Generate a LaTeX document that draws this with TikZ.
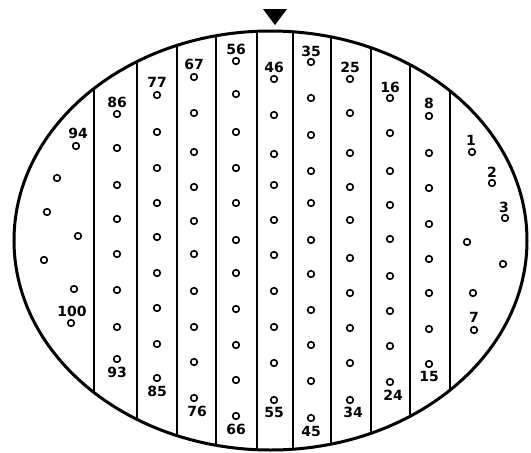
\documentclass[tikz,border=0pt]{standalone}
\usepackage{fontspec}
\setsansfont{DejaVu Sans}
\tikzset{
  dot/.style={circle, draw, line width=1.6pt, minimum size=6.6pt, inner sep=0pt},
  lbl/.style={font=\sffamily\bfseries\fontsize{14}{14}\selectfont, inner sep=0pt},
  divider/.style={line width=2pt},
  rim/.style={line width=3pt}
}
\begin{document}
\begin{tikzpicture}[x=1pt,y=-1pt]
\useasboundingbox (0,0) rectangle (531,453);
% dividers
\begin{scope}
  \clip (270.5,240.5) ellipse (256.5 and 209.5);
  \foreach \x in {94,137,177,216,257,293,331,371,410,450}
    \draw[divider] (\x,0) -- (\x,453);
\end{scope}
\draw[rim] (270.5,240.5) ellipse (256.5 and 209.5);
% arrow marker
\fill (263,9) -- (287,9) -- (275,25) -- cycle;
% right segment 1-7
\node[dot] (d1) at (472,152) {};
\node[dot] (d2) at (492,183) {};
\node[dot] (d3) at (505,218) {};
\node[dot] (d4) at (467,242) {};
\node[dot] (d5) at (503,264) {};
\node[dot] (d6) at (473,293) {};
\node[dot] (d7) at (474,330) {};
% columns
\foreach \y [count=\i from 8] in {116,153,188,224,259,293,329,364}
  \node[dot] (d\i) at (429,\y) {};
\foreach \y [count=\i from 16] in {98,133,171,205,239,276,311,346,382}
  \node[dot] (d\i) at (390,\y) {};
\foreach \y [count=\i from 25] in {79,113,153,187,220,258,293,328,363,400}
  \node[dot] (d\i) at (350,\y) {};
\foreach \y [count=\i from 35] in {62,98,135,171,203,240,274,310,345,381,418}
  \node[dot] (d\i) at (311,\y) {};
\foreach \y [count=\i from 46] in {79,115,154,185,220,255,291,327,363,400}
  \node[dot] (d\i) at (274,\y) {};
\foreach \y [count=\i from 56] in {61,94,132,168,203,240,273,309,345,380,416}
  \node[dot] (d\i) at (236,\y) {};
\foreach \y [count=\i from 67] in {77,113,152,187,221,254,291,327,362,398}
  \node[dot] (d\i) at (194,\y) {};
\foreach \y [count=\i from 77] in {95,132,168,203,237,273,308,344,378}
  \node[dot] (d\i) at (157,\y) {};
\foreach \y [count=\i from 86] in {114,148,185,219,254,290,327,359}
  \node[dot] (d\i) at (117,\y) {};
% left segment 94-100
\node[dot] (d94) at (76,146) {};
\node[dot] (d95) at (57,178) {};
\node[dot] (d96) at (47,212) {};
\node[dot] (d97) at (78,236) {};
\node[dot] (d98) at (44,260) {};
\node[dot] (d99) at (74,289) {};
\node[dot] (d100) at (71,323) {};
% labels
\node[lbl] (l1) at (471,140) {1};
\node[lbl] (l2) at (492,172) {2};
\node[lbl] (l3) at (504,207) {3};
\node[lbl] (l7) at (474,317) {7};
\node[lbl] (l8) at (429,103) {8};
\node[lbl] (l15) at (429,376) {15};
\node[lbl] (l16) at (390,87) {16};
\node[lbl] (l24) at (393,395) {24};
\node[lbl] (l25) at (350,67) {25};
\node[lbl] (l34) at (353,412) {34};
\node[lbl] (l35) at (311,51) {35};
\node[lbl] (l45) at (311,431) {45};
\node[lbl] (l46) at (274,67) {46};
\node[lbl] (l55) at (274,412) {55};
\node[lbl] (l56) at (236,49) {56};
\node[lbl] (l66) at (236,429) {66};
\node[lbl] (l67) at (194,64) {67};
\node[lbl] (l76) at (197,411) {76};
\node[lbl] (l77) at (157,82) {77};
\node[lbl] (l85) at (157,391) {85};
\node[lbl] (l86) at (117,102) {86};
\node[lbl] (l93) at (117,372) {93};
\node[lbl] (l94) at (78,133) {94};
\node[lbl] (l100) at (72,311) {100};
\end{tikzpicture}
\end{document}
